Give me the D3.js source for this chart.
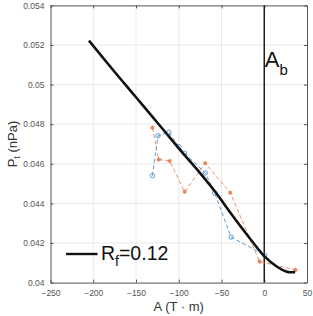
<!DOCTYPE html>
<html>
<head>
<meta charset="utf-8">
<script src="https://cdn.jsdelivr.net/npm/d3@7"></script>
<style>
  body { margin: 0; background: #fff; }
  text { font-family: "Liberation Sans", Arial, sans-serif; }
</style>
</head>
<body>
<div id="svg_area"></div>
<script>
// model curve (R_f = 0.12)
var fitA = [-205, -180, -150, -120, -95, -75, -56, -40, -17, 0, 15, 25, 30, 36];
var fitP = [0.05222, 0.05090, 0.04936, 0.04782, 0.04653, 0.04553, 0.04451, 0.04355, 0.04224, 0.04134, 0.04080, 0.04057, 0.04052, 0.04053];

// observed, blue circles
var blueA = [-130.8, -124.3, -111.5, -99.8, -93.2, -69, -58, -38.8, 0.4];
var blueP = [0.04540, 0.04742, 0.04759, 0.04686, 0.04653, 0.04554, 0.04453, 0.04230, 0.04139];

// observed, orange stars
var orangeA = [-130.8, -123.5, -110.6, -93.1, -69, -39.7, -5.5, 36.6];
var orangeP = [0.04782, 0.04622, 0.04614, 0.04459, 0.04603, 0.04454, 0.04106, 0.04064];

var xTicks = [-250, -200, -150, -100, -50, 0, 50];
var yTicks = [0.04, 0.042, 0.044, 0.046, 0.048, 0.05, 0.052, 0.054];

var width = 313, height = 316;
var margin = {top: 5.4, right: 6, bottom: 33.4, left: 50.5};
var w = width - margin.left - margin.right,
    h = height - margin.top - margin.bottom;

var svg = d3.select("#svg_area").append("svg").attr("width", width).attr("height", height);
var g = svg.append("g").attr("transform", "translate(" + margin.left + "," + margin.top + ")");

var x = d3.scaleLinear().domain([-250, 50]).range([0, w]);
var y = d3.scaleLinear().domain([0.04, 0.054]).range([h, 0]);

// grid
g.append("g").selectAll("line").data(xTicks.slice(1, -1)).enter().append("line")
    .attr("x1", function(d) { return x(d); }).attr("x2", function(d) { return x(d); })
    .attr("y1", 0).attr("y2", h)
    .attr("stroke", "#e3e3e3").attr("stroke-width", 0.8);
g.append("g").selectAll("line").data(yTicks.slice(1, -1)).enter().append("line")
    .attr("y1", function(d) { return y(d); }).attr("y2", function(d) { return y(d); })
    .attr("x1", 0).attr("x2", w)
    .attr("stroke", "#e3e3e3").attr("stroke-width", 0.8);

// axes
function styleAxis(sel) {
    sel.selectAll("path").attr("stroke", "#555");
    sel.selectAll("line").attr("stroke", "#555");
    sel.selectAll("text").attr("fill", "#555").style("font-size", "8.5px");
}
var fmtY = function(d) { return d3.format("")(+d.toFixed(3)); };

g.append("g").attr("transform", "translate(0," + h + ")")
    .call(d3.axisBottom(x).tickValues(xTicks).tickSize(-3).tickSizeOuter(0).tickPadding(7))
    .call(styleAxis);
g.append("g")
    .call(d3.axisTop(x).tickValues(xTicks).tickSize(-3).tickSizeOuter(0).tickFormat(""))
    .call(styleAxis);
g.append("g")
    .call(d3.axisLeft(y).tickValues(yTicks).tickSize(-3).tickSizeOuter(0).tickPadding(6).tickFormat(fmtY))
    .call(styleAxis);
g.append("g").attr("transform", "translate(" + w + ",0)")
    .call(d3.axisRight(y).tickValues(yTicks).tickSize(-3).tickSizeOuter(0).tickFormat(""))
    .call(styleAxis);

// A_b line
g.append("line")
    .attr("x1", x(0)).attr("x2", x(0)).attr("y1", 0).attr("y2", h)
    .attr("stroke", "#111").attr("stroke-width", 1.4);
var ab = g.append("text").attr("x", x(0) + 0.5).attr("y", 61.3).attr("fill", "#111")
    .style("font-size", "22px");
ab.append("tspan").text("A");
ab.append("tspan").attr("dy", 8).style("font-size", "15px").text("b");

var line = d3.line()
    .x(function(d) { return x(d[0]); })
    .y(function(d) { return y(d[1]); });

// blue series
var blue = d3.zip(blueA, blueP);
var blueC = "#4b93cc";
g.append("path").datum(blue)
    .attr("fill", "none").attr("stroke", blueC).attr("stroke-width", 0.9)
    .attr("stroke-dasharray", "4,2.5").attr("d", line);
g.append("g").selectAll("circle").data(blue).enter().append("circle")
    .attr("cx", function(d) { return x(d[0]); }).attr("cy", function(d) { return y(d[1]); })
    .attr("r", 2.2).attr("fill", "none").attr("stroke", blueC).attr("stroke-width", 0.9);

// orange series
var orange = d3.zip(orangeA, orangeP);
var orangeC = "#e3885c";
g.append("path").datum(orange)
    .attr("fill", "none").attr("stroke", orangeC).attr("stroke-width", 0.9)
    .attr("stroke-dasharray", "4,2.5").attr("d", line);
var star = d3.symbol().type(d3.symbolAsterisk).size(14);
g.append("g").selectAll("path").data(orange).enter().append("path")
    .attr("transform", function(d) { return "translate(" + x(d[0]) + "," + y(d[1]) + ")"; })
    .attr("d", star).attr("stroke", orangeC).attr("stroke-width", 1).attr("fill", "none");
g.append("g").selectAll("circle").data(orange).enter().append("circle")
    .attr("cx", function(d) { return x(d[0]); }).attr("cy", function(d) { return y(d[1]); })
    .attr("r", 1.8).attr("fill", orangeC);

// model curve
g.append("path").datum(d3.zip(fitA, fitP))
    .attr("fill", "none").attr("stroke", "#111").attr("stroke-width", 2.6)
    .attr("stroke-linejoin", "round")
    .attr("d", line.curve(d3.curveMonotoneX));

// legend
svg.append("line").attr("x1", 66).attr("x2", 97.5).attr("y1", 254).attr("y2", 254)
    .attr("stroke", "#111").attr("stroke-width", 2.4);
var lg = svg.append("text").attr("x", 101).attr("y", 260).attr("fill", "#111").style("font-size", "19.5px");
lg.append("tspan").text("R");
lg.append("tspan").attr("dy", 6).style("font-size", "14px").text("f");
lg.append("tspan").attr("dy", -6).text("=0.12");

// axis labels
svg.append("text").attr("x", margin.left + w / 2).attr("y", 311).attr("text-anchor", "middle")
    .attr("fill", "#333").style("font-size", "13px").text("A (T · m)");
var yl = svg.append("text").attr("transform", "translate(17," + (margin.top + h / 2) + ") rotate(-90)")
    .attr("text-anchor", "middle").attr("fill", "#333").style("font-size", "13px");
yl.append("tspan").text("P");
yl.append("tspan").attr("dy", 3).style("font-size", "9px").text("t");
yl.append("tspan").attr("dy", -3).text(" (nPa)");
</script>
</body>
</html>
